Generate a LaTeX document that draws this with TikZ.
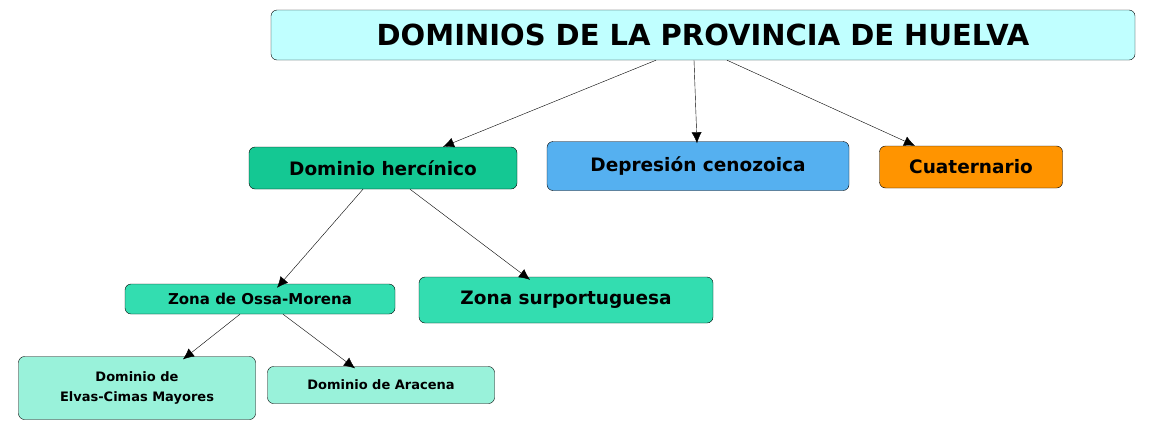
\documentclass[tikz,border=0pt]{standalone}
\usepackage{fontspec}
\setmainfont{DejaVu Sans}
\usetikzlibrary{arrows.meta,positioning}
\definecolor{titlecol}{HTML}{C0FFFF}
\definecolor{dominiocol}{HTML}{14C893}
\definecolor{depcol}{HTML}{55B0F0}
\definecolor{cuatcol}{HTML}{FF9400}
\definecolor{zonacol}{HTML}{33DDB0}
\definecolor{subcol}{HTML}{99F2DA}
\begin{document}
\begin{tikzpicture}[x=1pt,y=-1pt,>={Latex[length=11pt,width=10pt]},
    box/.style={draw,rounded corners=6pt,inner sep=0pt,font=\bfseries,align=center}]
  \useasboundingbox (0,0) rectangle (1161,429);

  \node[box,fill=titlecol,minimum width=864,minimum height=50,font=\fontsize{29}{30}\bfseries] (title) at (703,35) {DOMINIOS DE LA PROVINCIA DE HUELVA};
  \node[box,fill=dominiocol,minimum width=268,minimum height=42,font=\fontsize{18.5}{20}\bfseries] (herc) at (383,168) {Dominio hercínico};
  \node[box,fill=depcol,minimum width=302,minimum height=49,font=\fontsize{18.5}{20}\bfseries] (dep) at (698,166) {Depresión cenozoica};
  \node[box,fill=cuatcol,minimum width=183,minimum height=42,font=\fontsize{18.5}{20}\bfseries] (cuat) at (971,167) {Cuaternario};
  \node[box,fill=zonacol,minimum width=270,minimum height=30,font=\fontsize{15}{16}\bfseries] (ossa) at (260,299) {Zona de Ossa-Morena};
  \node[box,fill=zonacol,minimum width=294,minimum height=46,font=\fontsize{18.5}{20}\bfseries] (sur) at (566,300) {Zona surportuguesa};
  \node[box,fill=subcol,minimum width=237,minimum height=63,font=\fontsize{13}{20}\bfseries] (elvas) at (137,388) {Dominio de\\Elvas-Cimas Mayores};
  \node[box,fill=subcol,minimum width=227,minimum height=37,font=\fontsize{13}{15}\bfseries] (arac) at (381,385) {Dominio de Aracena};

  \draw[->] ([xshift=-47]title.south) -- ([xshift=60]herc.north);
  \draw[->] ([xshift=-9]title.south) -- ([xshift=-1,yshift=-2]dep.north);
  \draw[->] ([xshift=24]title.south) -- ([xshift=-56]cuat.north);
  \draw[->] ([xshift=-20]herc.south) -- ([xshift=17,yshift=-4]ossa.north);
  \draw[->] ([xshift=27]herc.south) -- ([xshift=-36,yshift=-3]sur.north);
  \draw[->] ([xshift=-20]ossa.south) -- ([xshift=46,yshift=-3]elvas.north);
  \draw[->] ([xshift=23]ossa.south) -- ([xshift=-26,yshift=-2]arac.north);
\end{tikzpicture}
\end{document}
